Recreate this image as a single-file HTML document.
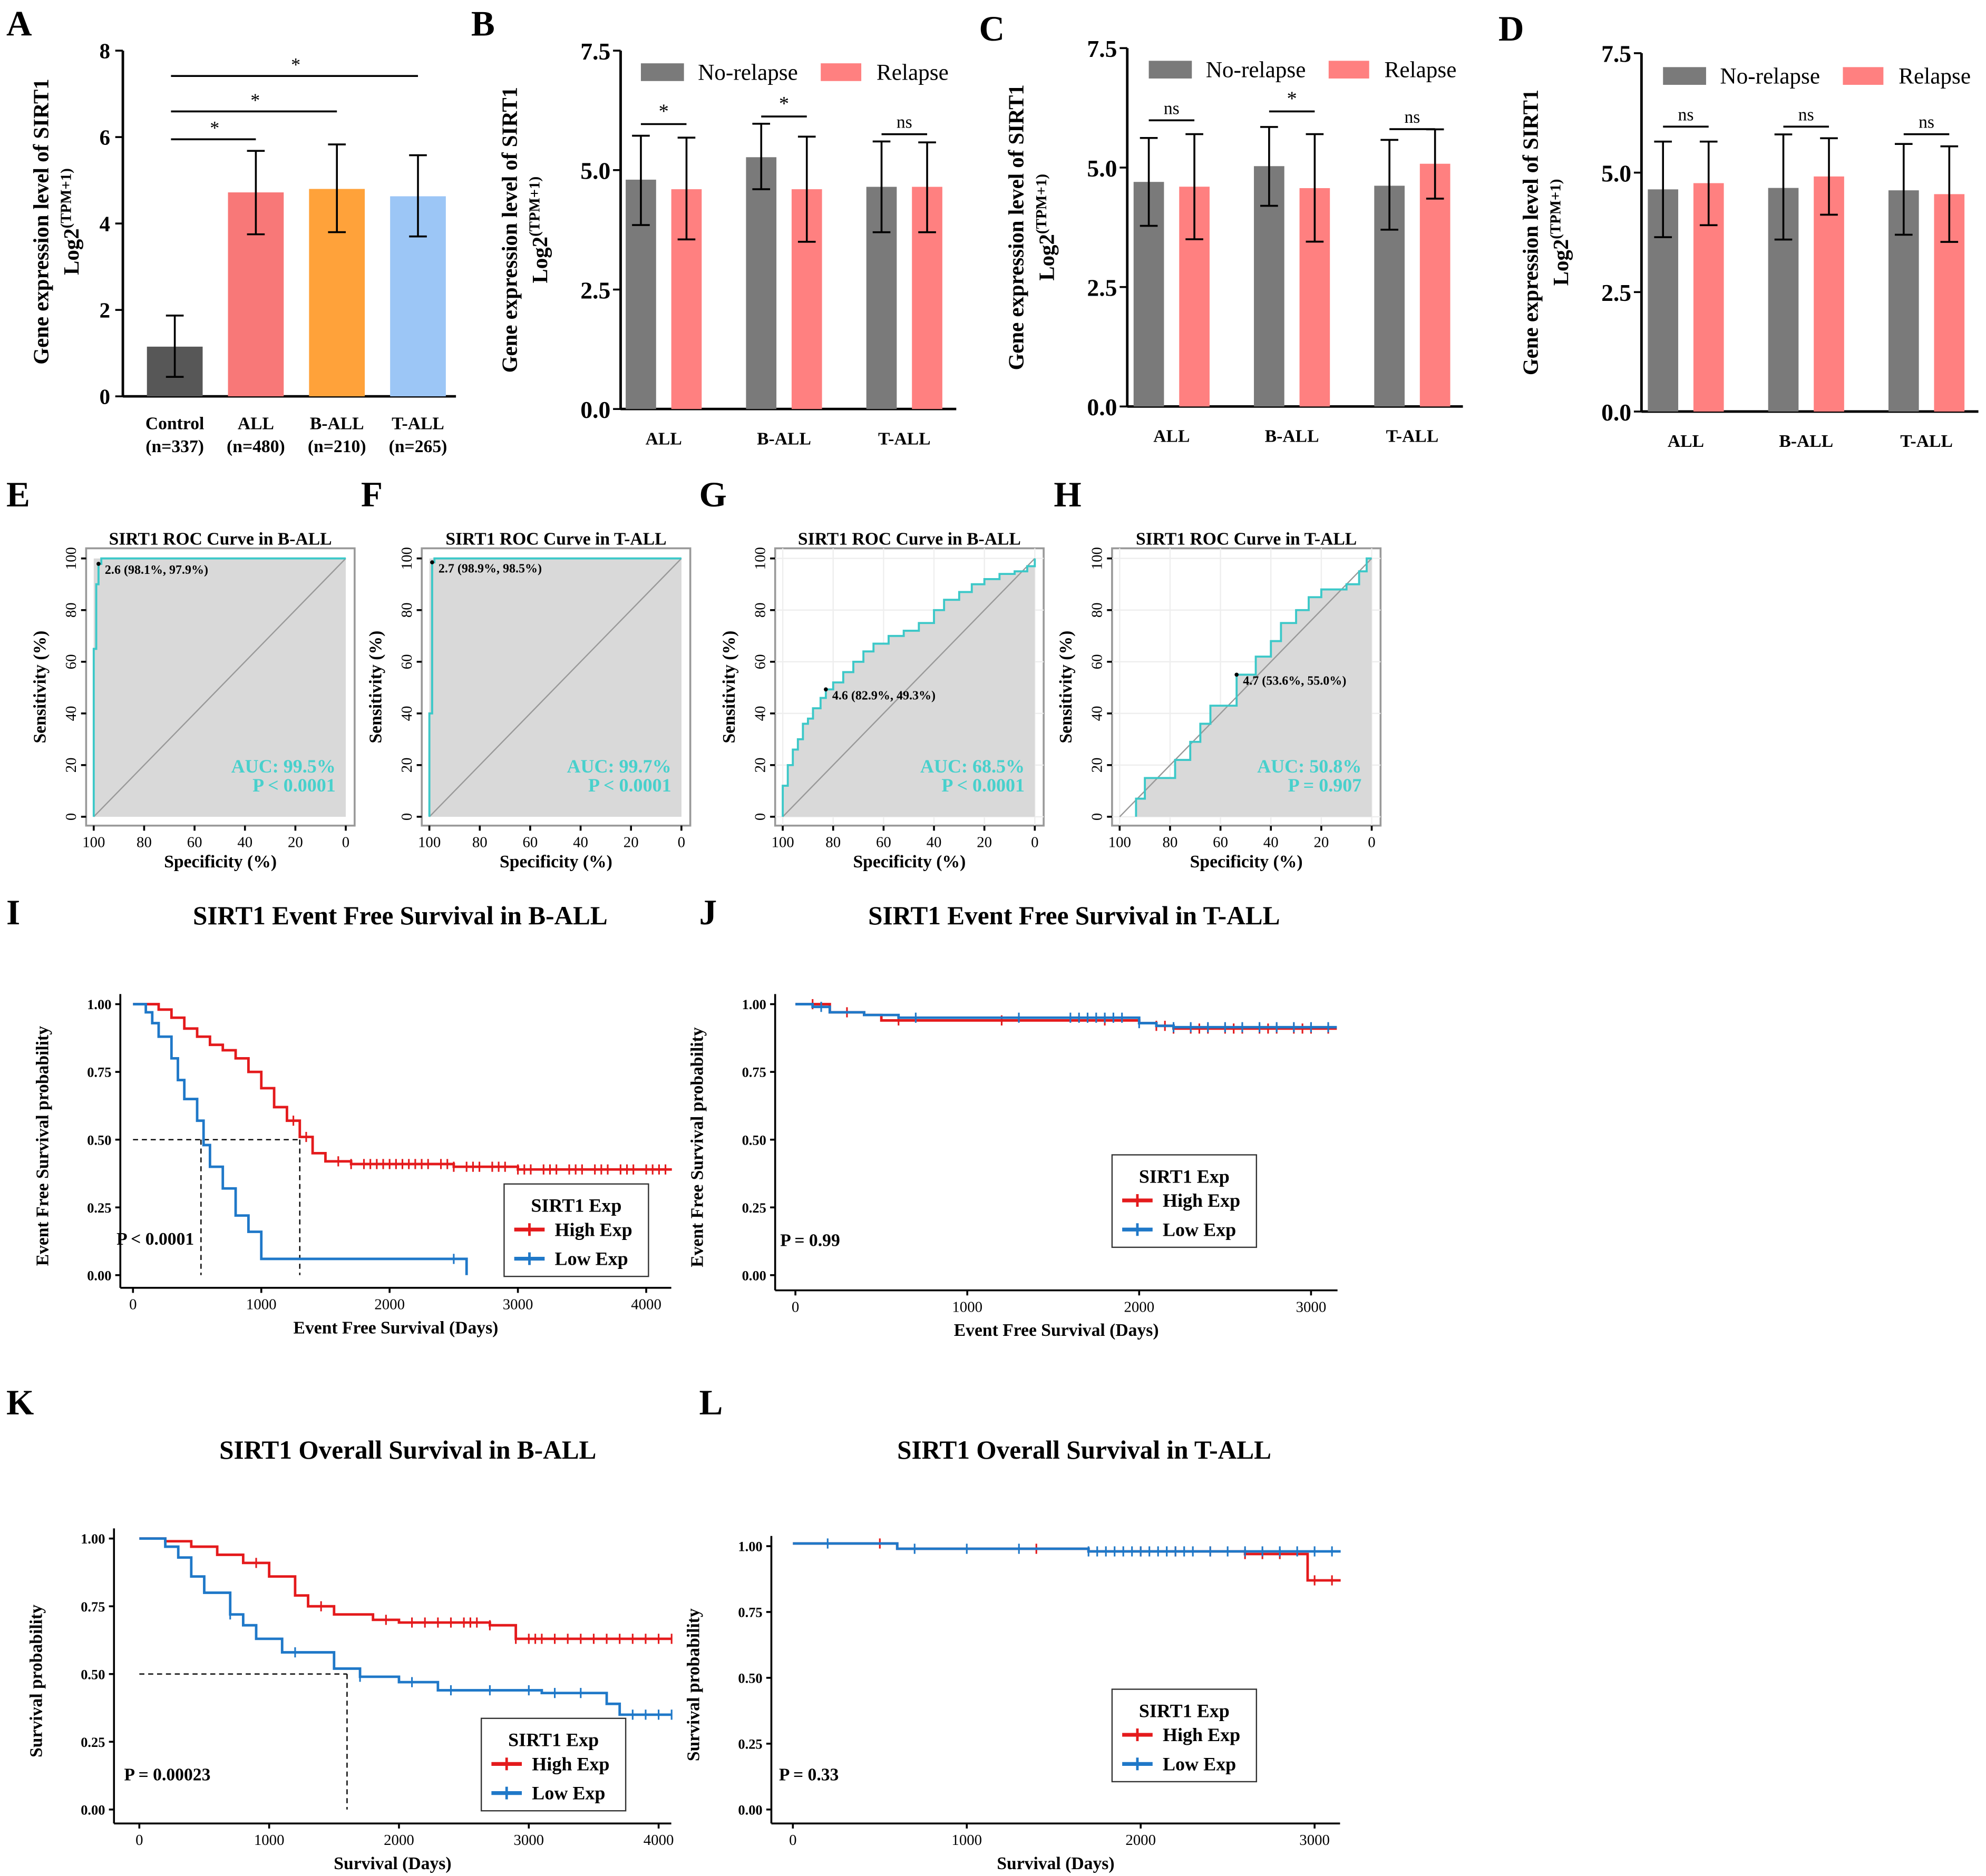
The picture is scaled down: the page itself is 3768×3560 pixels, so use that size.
<!DOCTYPE html>
<html><head><meta charset="utf-8"><style>
html,body{margin:0;padding:0;background:#fff;}
svg{display:block;font-family:"Liberation Serif",serif;}
</style></head><body>
<svg id="fig" width="3768" height="3560" viewBox="0 0 1568 1481.5" preserveAspectRatio="none" xmlns="http://www.w3.org/2000/svg"></svg>
<script>
// ===== Panel A data =====
const aCats=["Control","ALL","B-ALL","T-ALL"];
const aN=["(n=337)","(n=480)","(n=210)","(n=265)"];
const aVals=[1.15,4.72,4.8,4.63];
const aLo=[0.45,3.75,3.8,3.7];
const aHi=[1.87,5.68,5.83,5.58];
const aTicks=[0,2,4,6,8];
// ===== Panels B-D data =====
const grpCats=["ALL","B-ALL","T-ALL"];
const relTicks=[0.0,2.5,5.0,7.5];
const bNo=[4.8,5.27,4.65], bNoLo=[3.85,4.6,3.7], bNoHi=[5.72,5.97,5.6];
const bRe=[4.6,4.6,4.65], bReLo=[3.55,3.5,3.7], bReHi=[5.68,5.7,5.58];
const bSig=["*","*","ns"];
const cNo=[4.7,5.03,4.62], cNoLo=[3.78,4.2,3.7], cNoHi=[5.62,5.85,5.58];
const cRe=[4.6,4.57,5.08], cReLo=[3.5,3.45,4.35], cReHi=[5.7,5.7,5.8];
const cSig=["ns","*","ns"];
const dNo=[4.65,4.68,4.63], dNoLo=[3.65,3.6,3.7], dNoHi=[5.65,5.8,5.6];
const dRe=[4.78,4.92,4.55], dReLo=[3.9,4.12,3.55], dReHi=[5.65,5.72,5.55];
const dSig=["ns","ns","ns"];
// ===== ROC data (specificity, sensitivity) =====
const rocTicks=[0,20,40,60,80,100];
const eSpec=[100,100,99,98.1,97,0], eSens=[0,65,90,97.9,100,100];
const fSpec=[100,100,98.9,98,0], fSens=[0,40,98.5,100,100];
const gSpec=[100,100,98,96,94,92,90,88,85,82.9,80,76,72,68,64,58,52,46,40,36,30,25,20,14,8,3,0];
const gSens=[0,12,20,26,30,36,38,42,46,49.3,52,56,60,64,67,70,72,75,80,84,87,90,92,94,95,97,100];
const hSpec=[93.5,93.5,90,80,78,72,68,64,58,53.6,48,46,42,40,36,30,25,20,10,5,2,0];
const hSens=[0,7,15,15,22,29,36,43,43,55,55,62,62,68,75,80,85,88,90,95,100,100];
// ===== KM data =====
const iHighT=[0,100,200,300,400,500,600,700,800,900,1000,1100,1200,1300,1400,1500,1700,2500,3000,4200];
const iHighS=[1,1,0.98,0.95,0.91,0.88,0.85,0.83,0.80,0.75,0.69,0.62,0.57,0.51,0.45,0.42,0.41,0.40,0.39,0.39];
const iLowT=[0,100,150,200,300,350,400,500,550,600,700,800,900,1000,2600];
const iLowS=[1,0.97,0.93,0.88,0.80,0.72,0.65,0.57,0.48,0.40,0.32,0.22,0.16,0.06,0.06];
const iHighC=[1250,1350,1600,1700,1800,1850,1900,1950,2000,2050,2100,2150,2200,2250,2300,2400,2450,2500,2600,2650,2700,2800,2850,2900,3000,3050,3100,3200,3250,3300,3400,3450,3500,3600,3650,3700,3800,3850,3900,4000,4050,4100,4150];
const iLowC=[2500];
const jHighT=[0,100,200,400,500,1500,2000,2100,2200,3150];
const jHighS=[1,1,0.97,0.96,0.94,0.94,0.93,0.92,0.91,0.91];
const jLowT=[0,100,200,400,600,1500,2000,2100,2200,3150];
const jLowS=[1,0.99,0.97,0.96,0.95,0.95,0.93,0.92,0.915,0.915];
const jHighC=[100,300,600,1200,1800,2100,2150,2200,2300,2350,2400,2500,2550,2600,2700,2750,2800,2900,2950,3000,3100];
const jLowC=[150,700,1300,1600,1650,1700,1750,1800,1850,1900,2000,2200,2300,2400,2500,2600,2700,2800,2900,3000,3100];
const kHighT=[0,200,400,600,800,1000,1200,1300,1500,1800,2000,2700,2900,4100];
const kHighS=[1,0.99,0.97,0.94,0.91,0.86,0.79,0.75,0.72,0.70,0.69,0.68,0.63,0.63];
const kLowT=[0,200,300,400,500,700,800,900,1100,1500,1700,2000,2300,3100,3600,3700,4100];
const kLowS=[1,0.97,0.93,0.86,0.80,0.72,0.68,0.63,0.58,0.52,0.49,0.47,0.44,0.43,0.39,0.35,0.35];
const kHighC=[900,1400,1900,2100,2200,2300,2400,2500,2550,2600,2700,2900,3000,3050,3100,3200,3300,3400,3500,3600,3700,3800,3900,4000,4100];
const kLowC=[700,1200,1700,2100,2400,2700,3000,3200,3400,3800,3900,4000,4100];
const lHighT=[0,600,1700,2600,2950,2960,3150];
const lHighS=[1.01,0.99,0.98,0.97,0.97,0.87,0.87];
const lLowT=[0,600,1700,3150];
const lLowS=[1.01,0.99,0.98,0.98];
const lHighC=[500,1400,2000,2200,2400,2600,2700,2800,3000,3100];
const lLowC=[200,700,1000,1300,1700,1750,1800,1850,1900,1950,2000,2050,2100,2150,2200,2250,2300,2400,2500,2600,2700,2800,2900,3000,3100];
const kmTicksI=[0,1000,2000,3000,4000];
const kmTicksJ=[0,1000,2000,3000];
const survTicks=[0,0.25,0.5,0.75,1];

const NS="http://www.w3.org/2000/svg";
const svg=document.getElementById('fig');
function el(tag,attrs,name,parent){
  const e=document.createElementNS(NS,tag);
  for(const k in attrs) e.setAttribute(k,attrs[k]);
  
  
  (parent||svg).appendChild(e);return e;
}
function txt(x,y,s,name,opt){
  opt=opt||{};
  const t=el('text',{x:x,y:y,'font-size':opt.size||14,'font-weight':opt.w||'bold','text-anchor':opt.a||'middle',fill:opt.fill||'#000'},name);
  if(opt.rot!==undefined) t.setAttribute('transform','rotate('+opt.rot+' '+x+' '+y+')');
  t.textContent=s;return t;
}
function line(x1,y1,x2,y2,name,st){
  st=st||{};
  return el('line',{x1:x1,y1:y1,x2:x2,y2:y2,stroke:st.c||'#000','stroke-width':st.w||1.5,'stroke-dasharray':st.d||'none'},name);
}
[["A",5,28],["B",372,28],["C",773,32],["D",1183,32],["E",5,400],["F",285,400],["G",552,400],["H",832,400],["I",5,730],["J",552,730],["K",5,1117],["L",552,1117]].forEach(p=>{
  txt(p[1],p[2],p[0],'panel-label-'+p[0].toLowerCase(),{size:28,a:'start'});
});
function yTitle2(x,yc,name){
  txt(x,yc,'Gene expression level of SIRT1',name+'-line1',{size:17,rot:-90});
  const t=el('text',{x:x+24,y:yc,'font-size':17,'font-weight':'bold','text-anchor':'middle',transform:'rotate(-90 '+(x+24)+' '+yc+')'},name+'-line2');
  t.innerHTML='Log2<tspan dy="-6" font-size="12">(TPM+1)</tspan>';
}
(function(){
  const x0=97,yT=40,yB=313,max=8,xE=360;
  const Y=v=>yB-(v/max)*(yB-yT);
  const X=i=>138+i*64;
  const cols=["#575757","#F87878","#FFA23A","#9CC6F6"];
  line(x0,yT,x0,yB,'a-y-axis',{w:2});line(x0,yB,xE,yB,'a-x-axis',{w:2});
  aTicks.forEach(v=>{line(x0-6,Y(v),x0,Y(v),'a-y-tick');txt(x0-10,Y(v)+6,String(v),'a-y-tick-label',{size:17,a:'end'});});
  aVals.forEach((v,i)=>{
    el('rect',{x:X(i)-22,y:Y(v),width:44,height:yB-Y(v),fill:cols[i]},'a-bar-'+aCats[i].toLowerCase());
    line(X(i),Y(aLo[i]),X(i),Y(aHi[i]),'a-errorbar');
    line(X(i)-7,Y(aLo[i]),X(i)+7,Y(aLo[i]),'a-errorcap');line(X(i)-7,Y(aHi[i]),X(i)+7,Y(aHi[i]),'a-errorcap');
    txt(X(i),Y(0)+26,aCats[i],'a-x-label',{size:14});txt(X(i),Y(0)+44,aN[i],'a-x-n-label',{size:14});
  });
  [[1,110],[2,88],[3,60]].forEach(s=>{line(135,s[1],X(s[0]),s[1],'a-sig-line');txt((135+X(s[0]))/2+1,s[1]-4,'*','a-sig-star',{size:15,w:'normal'});});
  yTitle2(38,175,'a-y-title');
})();
function relPanel(p,x0,yT,yB,xE,c0,no,noLo,noHi,re,reLo,reHi,sig,legY,sigY){
  const Y=v=>yB-(v/7.5)*(yB-yT);
  line(x0,yT,x0,yB,p+'-y-axis',{w:2});line(x0,yB,xE,yB,p+'-x-axis',{w:2});
  relTicks.forEach(v=>{line(x0-6,Y(v),x0,Y(v),p+'-y-tick');txt(x0-8,Y(v)+7,v.toFixed(1),p+'-y-tick-label',{size:19,a:'end'});});
  grpCats.forEach((c,i)=>{
    const g=c0+i*95,r=g+36;
    el('rect',{x:g-12,y:Y(no[i]),width:24,height:yB-Y(no[i]),fill:'#7A7A7A'},p+'-bar-norelapse-'+c.toLowerCase());
    el('rect',{x:r-12,y:Y(re[i]),width:24,height:yB-Y(re[i]),fill:'#FF8080'},p+'-bar-relapse-'+c.toLowerCase());
    [[g,noLo[i],noHi[i]],[r,reLo[i],reHi[i]]].forEach(e=>{
      line(e[0],Y(e[1]),e[0],Y(e[2]),p+'-errorbar');line(e[0]-7,Y(e[1]),e[0]+7,Y(e[1]),p+'-errorcap');line(e[0]-7,Y(e[2]),e[0]+7,Y(e[2]),p+'-errorcap');
    });
    const sy=sigY[i];
    line(g,sy,r,sy,p+'-sig-line');
    txt((g+r)/2,sy-5,sig[i],p+'-sig-text',{size:sig[i]=='*'?16:14,w:'normal'});
    txt((g+r)/2,yB+28,c,p+'-x-label',{size:14});
  });
  el('rect',{x:c0,y:legY-7,width:34,height:14,fill:'#7A7A7A'},p+'-legend-swatch-norelapse');
  txt(c0+45,legY+6,'No-relapse',p+'-legend-norelapse',{size:18,w:'normal',a:'start'});
  el('rect',{x:c0+142,y:legY-7,width:32,height:14,fill:'#FF8080'},p+'-legend-swatch-relapse');
  txt(c0+186,legY+6,'Relapse',p+'-legend-relapse',{size:18,w:'normal',a:'start'});
  yTitle2(x0-82,(yT+yB)/2,p+'-y-title');
}
relPanel('b',490,40,323,755,506,bNo,bNoLo,bNoHi,bRe,bReLo,bReHi,bSig,57,[98,92,106]);
relPanel('c',890,38,321,1155,907,cNo,cNoLo,cNoHi,cRe,cReLo,cReHi,cSig,55,[95,88,102]);
relPanel('d',1296,42,325,1562,1313,dNo,dNoLo,dNoHi,dRe,dReLo,dReHi,dSig,60,[100,100,106]);
function roc(p,bx,title,spec,sens,cut,cutTxt,auc,pv,grid){
  const L=bx,R=bx+212,T=433,B=652;
  const x100=bx+6,x0=bx+205,y0=645,y100=441;
  const X=s=>x0-(s/100)*(x0-x100), Y=v=>y0-(v/100)*(y0-y100);
  el('rect',{x:L,y:T,width:212,height:219,fill:'#fff',stroke:'#999','stroke-width':1.5},p+'-plot-area');
  if(grid){rocTicks.forEach(v=>{line(X(v),T,X(v),B,p+'-grid-v',{c:'#eee',w:1});line(L,Y(v),R,Y(v),p+'-grid-h',{c:'#eee',w:1});});}
  let d='M'+X(spec[0])+','+Y(sens[0]);
  for(let i=1;i<spec.length;i++){d+=' L'+X(spec[i])+','+Y(sens[i-1])+' L'+X(spec[i])+','+Y(sens[i]);}
  el('path',{d:d+' L'+X(0)+','+Y(0)+' L'+X(spec[0])+','+Y(0)+' Z',fill:'#D9D9D9',stroke:'none'},p+'-auc-fill');
  if(!grid) el('path',{d:'M'+X(100)+','+Y(0)+' L'+X(spec[0])+','+Y(0)+' L'+X(spec[0])+','+Y(100)+' L'+X(0)+','+Y(100)+' L'+X(0)+','+Y(0)+'Z',fill:'#D9D9D9'},p+'-auc-fill2');
  line(X(100),Y(0),X(0),Y(100),p+'-diagonal',{c:'#999',w:1});
  el('path',{d:d,fill:'none',stroke:'#3CC8C8','stroke-width':1.6},p+'-roc-curve');
  el('circle',{cx:X(cut[0]),cy:Y(cut[1]),r:1.6,fill:'#000'},p+'-cutoff-point');
  txt(X(cut[0])+5,Y(cut[1])+8,cutTxt,p+'-cutoff-label',{size:10,a:'start'});
  txt(R-15,610,'AUC: '+auc,p+'-auc-text',{size:15,a:'end',fill:'#48D0CC',w:'bold'});
  txt(R-15,625,pv,p+'-p-text',{size:15,a:'end',fill:'#48D0CC'});
  txt((L+R)/2,430,title,p+'-title',{size:14});
  rocTicks.forEach(v=>{
    line(X(v),B,X(v),B+4,p+'-x-tick');txt(X(v),B+17,String(v),p+'-x-tick-label',{size:12,w:'normal'});
    line(L-4,Y(v),L,Y(v),p+'-y-tick');txt(L-8,Y(v),String(v),p+'-y-tick-label',{size:12,w:'normal',rot:-90});
  });
  txt((L+R)/2,685,'Specificity (%)',p+'-x-title',{size:14});
  txt(L-32,(T+B)/2,'Sensitivity (%)',p+'-y-title',{size:14,rot:-90});
}
roc('e',68,'SIRT1 ROC Curve in  B-ALL',eSpec,eSens,[98.1,97.9],'2.6 (98.1%, 97.9%)','99.5%','P < 0.0001',false);
roc('f',333,'SIRT1 ROC Curve in T-ALL',fSpec,fSens,[98.9,98.5],'2.7 (98.9%, 98.5%)','99.7%','P < 0.0001',false);
roc('g',612,'SIRT1 ROC Curve in  B-ALL',gSpec,gSens,[82.9,49.3],'4.6 (82.9%, 49.3%)','68.5%','P < 0.0001',true);
roc('h',878,'SIRT1 ROC Curve in T-ALL',hSpec,hSens,[53.6,55],'4.7 (53.6%, 55.0%)','50.8%','P = 0.907',true);
function km(p,cfg){
  const X=t=>cfg.x0+t/cfg.tStep*cfg.xStep, Y=s=>cfg.y0-s*(cfg.y0-cfg.y1);
  line(cfg.axX,cfg.y1-8,cfg.axX,cfg.axY,p+'-y-axis');line(cfg.axX,cfg.axY,cfg.xEnd,cfg.axY,p+'-x-axis');
  survTicks.forEach(v=>{line(cfg.axX-4,Y(v),cfg.axX,Y(v),p+'-y-tick');txt(cfg.axX-7,Y(v)+4,v.toFixed(2),p+'-y-tick-label',{size:11,a:'end'});});
  cfg.xt.forEach(v=>{line(X(v),cfg.axY,X(v),cfg.axY+4,p+'-x-tick');txt(X(v),cfg.axY+17,String(v),p+'-x-tick-label',{size:12,w:'normal'});});
  txt(cfg.tx,cfg.ty,cfg.title,p+'-title',{size:20.5});
  txt((cfg.axX+cfg.xEnd)/2,cfg.axY+36,cfg.xlab,p+'-x-title',{size:14});
  txt(cfg.axX-57,(cfg.y1+cfg.axY)/2,cfg.ylab,p+'-y-title',{size:14,rot:-90});
  if(cfg.med){const m=cfg.med;
    line(X(0),Y(0.5),X(Math.max(...m)),Y(0.5),p+'-median-hline',{d:'4,3',w:1});
    m.forEach(t=>line(X(t),Y(0.5),X(t),Y(0),p+'-median-vline',{d:'4,3',w:1}));}
  function curve(T,S,C,col,nm,drop){
    let d='M'+X(T[0])+','+Y(S[0]);
    for(let i=1;i<T.length;i++) d+=' L'+X(T[i])+','+Y(S[i-1])+' L'+X(T[i])+','+Y(S[i]);
    if(drop) d+=' L'+X(T[T.length-1])+','+Y(0);
    el('path',{d:d,fill:'none',stroke:col,'stroke-width':2},p+'-curve-'+nm);
    C.forEach(c=>{let s=S[0];for(let i=0;i<T.length;i++) if(T[i]<=c) s=S[i];
      line(X(c),Y(s)-4,X(c),Y(s)+4,p+'-censor-'+nm,{c:col,w:1.3});});
  }
  curve(cfg.hT,cfg.hS,cfg.hC,'#E41A1C','high',false);
  curve(cfg.lT,cfg.lS,cfg.lC,'#1F78C8','low',cfg.drop);
  const lx=cfg.lx,ly=cfg.ly;
  el('rect',{x:lx,y:ly,width:114,height:73,fill:'#fff',stroke:'#333','stroke-width':1},p+'-legend-box');
  txt(lx+57,ly+22,'SIRT1 Exp',p+'-legend-title',{size:15});
  line(lx+8,ly+36,lx+32,ly+36,p+'-legend-high-line',{c:'#E41A1C',w:3});line(lx+20,ly+31,lx+20,ly+41,p+'-legend-high-mark',{c:'#E41A1C',w:2});
  txt(lx+40,ly+41,'High Exp',p+'-legend-high',{size:15,a:'start'});
  line(lx+8,ly+59,lx+32,ly+59,p+'-legend-low-line',{c:'#1F78C8',w:3});line(lx+20,ly+54,lx+20,ly+64,p+'-legend-low-mark',{c:'#1F78C8',w:2});
  txt(lx+40,ly+64,'Low Exp',p+'-legend-low',{size:15,a:'start'});
  txt(cfg.px,cfg.py,cfg.pv,p+'-p-value',{size:14,a:'start'});
}
km('i',{x0:105,tStep:1000,xStep:101.3,y0:1007,y1:793,axX:95,axY:1017,xEnd:530,xt:kmTicksI,title:'SIRT1 Event Free Survival in B-ALL',tx:316,ty:730,xlab:'Event Free Survival (Days)',ylab:'Event Free Survival probability',med:[530,1300],hT:iHighT,hS:iHighS,hC:iHighC,lT:iLowT,lS:iLowS,lC:iLowC,drop:true,lx:398,ly:935,px:92,py:983,pv:'P < 0.0001'});
km('j',{x0:628,tStep:1000,xStep:135.7,y0:1007,y1:793,axX:612,axY:1019,xEnd:1056,xt:kmTicksJ,title:'SIRT1 Event Free Survival in T-ALL',tx:848,ty:730,xlab:'Event Free Survival (Days)',ylab:'Event Free Survival probability',med:null,hT:jHighT,hS:jHighS,hC:jHighC,lT:jLowT,lS:jLowS,lC:jLowC,drop:false,lx:878,ly:912,px:616,py:984,pv:'P = 0.99'});
km('k',{x0:110,tStep:1000,xStep:102.5,y0:1429,y1:1215,axX:90,axY:1440,xEnd:530,xt:kmTicksI,title:'SIRT1 Overall Survival in B-ALL',tx:322,ty:1152,xlab:'Survival (Days)',ylab:'Survival probability',med:[1600],hT:kHighT,hS:kHighS,hC:kHighC,lT:kLowT,lS:kLowS,lC:kLowC,drop:false,lx:380,ly:1357,px:98,py:1406,pv:'P = 0.00023'});
km('l',{x0:626,tStep:1000,xStep:137.3,y0:1429,y1:1221,axX:609,axY:1440,xEnd:1058,xt:kmTicksJ,title:'SIRT1 Overall Survival in T-ALL',tx:856,ty:1152,xlab:'Survival (Days)',ylab:'Survival probability',med:null,hT:lHighT,hS:lHighS,hC:lHighC,lT:lLowT,lS:lLowS,lC:lLowC,drop:false,lx:878,ly:1334,px:615,py:1406,pv:'P = 0.33'});
</script>
</body></html>
